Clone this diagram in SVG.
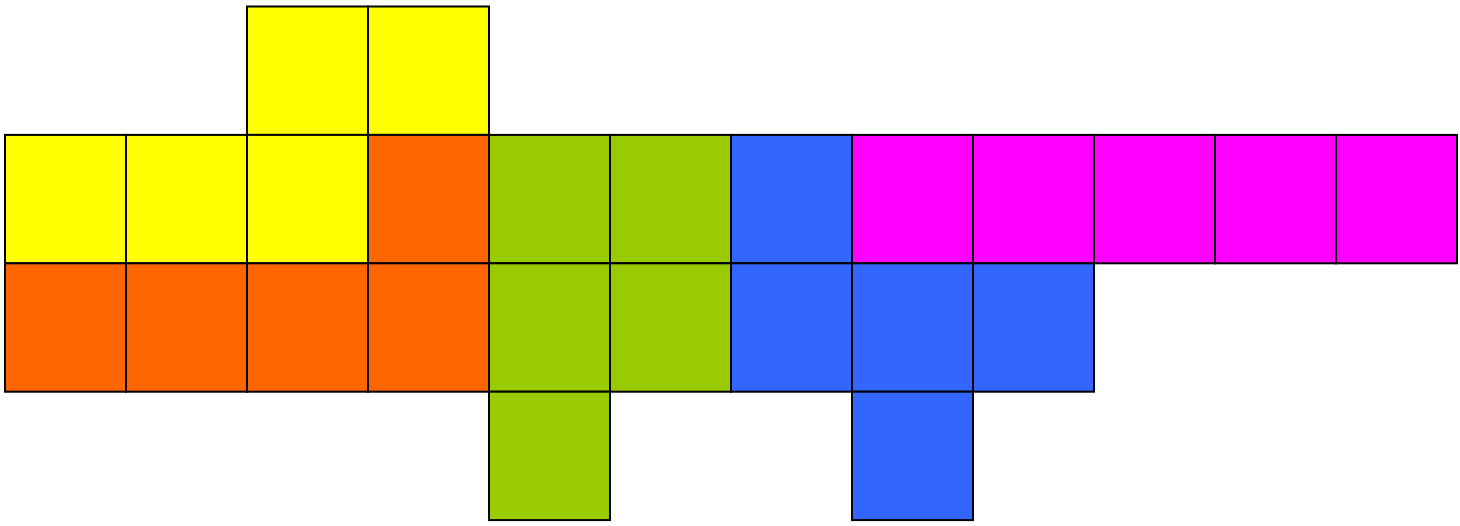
<svg xmlns="http://www.w3.org/2000/svg" width="1460" height="526" viewBox="0 0 1460 526">
<style>
rect{stroke:#000;stroke-width:2}
.y{fill:#FFFF00}.o{fill:#FF6600}.g{fill:#99CC00}.b{fill:#3366FF}.m{fill:#FF00FF}
</style>
<rect x="0" y="0" width="1460" height="526" fill="#fff" style="stroke:none"/>
<g id="row0">
<g id="c0-2"><rect class="y" x="247" y="6.5" width="121" height="128.4"/></g>
<g id="c0-3"><rect class="y" x="368" y="6.5" width="121" height="128.4"/></g>
</g>
<g id="row1">
<g id="c1-0"><rect class="y" x="5" y="134.9" width="121" height="128.4"/></g>
<g id="c1-1"><rect class="y" x="126" y="134.9" width="121" height="128.4"/></g>
<g id="c1-2"><rect class="y" x="247" y="134.9" width="121" height="128.4"/></g>
<g id="c1-3"><rect class="o" x="368" y="134.9" width="121" height="128.4"/></g>
<g id="c1-4"><rect class="g" x="489" y="134.9" width="121" height="128.4"/></g>
<g id="c1-5"><rect class="g" x="610" y="134.9" width="121" height="128.4"/></g>
<g id="c1-6"><rect class="b" x="731" y="134.9" width="121" height="128.4"/></g>
<g id="c1-7"><rect class="m" x="852" y="134.9" width="121" height="128.4"/></g>
<g id="c1-8"><rect class="m" x="973" y="134.9" width="121" height="128.4"/></g>
<g id="c1-9"><rect class="m" x="1094" y="134.9" width="121" height="128.4"/></g>
<g id="c1-10"><rect class="m" x="1215" y="134.9" width="121" height="128.4"/></g>
<g id="c1-11"><rect class="m" x="1336" y="134.9" width="121" height="128.4"/></g>
</g>
<g id="row2">
<g id="c2-0"><rect class="o" x="5" y="263.3" width="121" height="128.4"/></g>
<g id="c2-1"><rect class="o" x="126" y="263.3" width="121" height="128.4"/></g>
<g id="c2-2"><rect class="o" x="247" y="263.3" width="121" height="128.4"/></g>
<g id="c2-3"><rect class="o" x="368" y="263.3" width="121" height="128.4"/></g>
<g id="c2-4"><rect class="g" x="489" y="263.3" width="121" height="128.4"/></g>
<g id="c2-5"><rect class="g" x="610" y="263.3" width="121" height="128.4"/></g>
<g id="c2-6"><rect class="b" x="731" y="263.3" width="121" height="128.4"/></g>
<g id="c2-7"><rect class="b" x="852" y="263.3" width="121" height="128.4"/></g>
<g id="c2-8"><rect class="b" x="973" y="263.3" width="121" height="128.4"/></g>
</g>
<g id="row3">
<g id="c3-4"><rect class="g" x="489" y="391.7" width="121" height="128.4"/></g>
<g id="c3-7"><rect class="b" x="852" y="391.7" width="121" height="128.4"/></g>
</g>
<g id="connectors"></g>
</svg>
